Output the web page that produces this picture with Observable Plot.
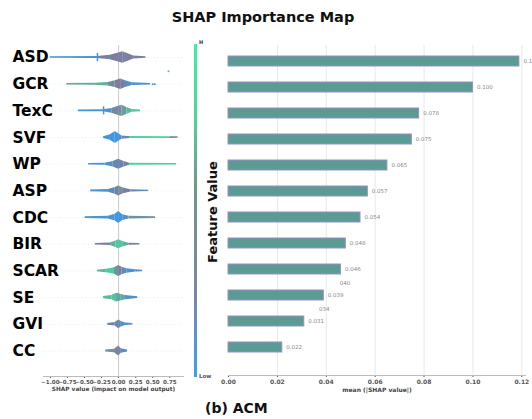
<!DOCTYPE html>
<html><head><meta charset="utf-8">
<script src="https://cdn.jsdelivr.net/npm/d3@7"></script>
<script src="https://cdn.jsdelivr.net/npm/@observablehq/plot@0.6"></script>
<style>
body{margin:0;background:#fff;}
#wrap{position:relative;width:532px;height:419px;overflow:hidden;background:#fff;font-family:"DejaVu Sans",sans-serif;}
.abs{position:absolute;}
#title{top:8px;left:0;width:526px;text-align:center;font-weight:bold;font-size:14.5px;line-height:18px;color:#111;}
#caption{top:399px;left:205px;font-weight:bold;font-size:14px;line-height:18px;color:#111;}
#cbar{left:194px;top:44px;width:3px;height:333px;background:linear-gradient(to bottom,#3cf0a4 0%,#4fd498 22%,#6e9a88 42%,#7a8c94 60%,#7b86aa 76%,#5a94d4 88%,#38a2ec 100%);}
#hlab{left:199px;top:39px;font-size:5px;font-weight:bold;color:#333;}
#lowlab{left:199px;top:373px;font-size:5.5px;font-weight:bold;color:#555;}
#fv{left:153px;top:204px;width:120px;height:16px;line-height:16px;text-align:center;font-size:13px;font-weight:bold;color:#111;transform:rotate(-90deg);}
#left{left:0;top:0;}
#right{left:220px;top:0;}
</style></head>
<body><div id="wrap">
<div id="title" class="abs">SHAP Importance Map</div>
<div id="left" class="abs"></div>
<div id="cbar" class="abs"></div>
<div id="hlab" class="abs">H</div>
<div id="lowlab" class="abs">Low</div>
<div id="fv" class="abs">Feature Value</div>
<div id="right" class="abs"></div>
<div id="caption" class="abs">(b) ACM</div>
</div>
<script>
// ---- data ----
const features = ["ASD","GCR","TexC","SVF","WP","ASP","CDC","BIR","SCAR","SE","GVI","CC"];
const meanAbsShap = [0.119,0.100,0.078,0.075,0.065,0.057,0.054,0.048,0.046,0.039,0.031,0.022];
const shapTicks = [-1.0,-0.75,-0.5,-0.25,0,0.25,0.5,0.75];
const meanTicks = [0,0.02,0.04,0.06,0.08,0.10,0.12];

// violin knots: [SHAP value, density half-width, feature value 0=low..1=high]
const ASD_knots  = [[-1.0,0.8,0.1],[-0.31,1.0,0.45],[-0.12,2.2,0.5],[0.0,4.4,0.5],[0.06,5.8,0.55],[0.13,4,0.5],[0.22,1.6,0.48],[0.40,0.8,0.5]];
const GCR_knots  = [[-0.76,0.8,0.7],[-0.35,1.0,0.75],[-0.15,1.8,0.55],[-0.05,3.4,0.5],[0.03,5.2,0.5],[0.1,3.4,0.2],[0.2,1.4,0.1],[0.47,0.8,0.1]];
const TexC_knots = [[-0.59,0.8,0.1],[-0.22,1.0,0.15],[-0.1,2.3,0.55],[0.0,4.6,0.6],[0.05,5.6,0.65],[0.12,3.4,0.8],[0.2,1.4,0.85],[0.32,0.8,0.6]];
const SVF_knots  = [[-0.22,0.9,0.08],[-0.12,2.8,0.05],[-0.05,6,0.05],[0.0,3.8,0.1],[0.05,1.6,0.35],[0.13,1.1,0.5],[0.17,1.0,0.92],[0.75,0.9,0.5],[0.87,0.8,0.5]];
const WP_knots   = [[-0.44,0.8,0.1],[-0.2,1.1,0.15],[-0.08,2.8,0.35],[0.0,5,0.4],[0.08,2.8,0.45],[0.16,1.1,0.9],[0.85,0.8,0.9]];
const ASP_knots  = [[-0.41,0.8,0.1],[-0.15,1.3,0.25],[-0.05,3.3,0.5],[0.0,5,0.6],[0.07,2.8,0.5],[0.18,1.1,0.3],[0.44,0.7,0.3]];
const CDC_knots  = [[-0.49,0.8,0.1],[-0.15,1.3,0.1],[-0.05,3.3,0.05],[0.0,6,0.05],[0.06,2.8,0.2],[0.15,1.3,0.6],[0.54,0.8,0.5]];
const BIR_knots  = [[-0.34,0.8,0.5],[-0.12,1.3,0.75],[-0.04,3.3,0.85],[0.0,4.5,0.85],[0.06,2.8,0.75],[0.15,1.1,0.5],[0.31,0.7,0.45]];
const SCAR_knots = [[-0.31,0.7,0.75],[-0.18,1.7,0.88],[-0.06,3.3,0.6],[0.0,5.5,0.5],[0.05,3.8,0.3],[0.12,2.2,0.1],[0.25,1.1,0.3],[0.35,0.7,0.45]];
const SE_knots   = [[-0.22,1.1,0.8],[-0.1,2.2,0.82],[-0.03,4.4,0.68],[0.03,3.3,0.7],[0.1,2.2,0.2],[0.28,0.9,0.15]];
const GVI_knots  = [[-0.16,0.9,0.4],[-0.05,1.7,0.4],[0.0,4.4,0.35],[0.04,2.8,0.2],[0.1,1.3,0.1],[0.21,0.7,0.15]];
const CC_knots   = [[-0.19,0.9,0.62],[-0.06,1.7,0.55],[0.0,5,0.45],[0.04,2.2,0.2],[0.13,0.9,0.15]];
const violins = [ASD_knots,GCR_knots,TexC_knots,SVF_knots,WP_knots,ASP_knots,CDC_knots,BIR_knots,SCAR_knots,SE_knots,GVI_knots,CC_knots];

// clustered points showing as spikes: [row, SHAP value, feature value]
const spikes = [[0,-0.31,0.1],[2,-0.22,0.1]];
// isolated points: [row position, SHAP value, feature value]
const strays = [[0.52,0.73,0.8],[1,0.50,0.2],[1,0.53,0.2]];
// high-value accent points inside cores
const accents = [[0,0.04],[0,0.08],[1,0.02],[2,0.02]];
// partly hidden value labels
const ghostLabels = [["SCAR",0.0455,"040"],["SE",0.037,"034"]];

// ---- left: SHAP summary ----
const rowPx = (350.5-57)/11;
const segs = [];
violins.forEach((k,i)=>{
  for(let j=0;j<k.length-1;j++){
    const id = i+"-"+j;
    segs.push({id,row:i,x:k[j][0],w:k[j][1],c:k[j][2]});
    segs.push({id,row:i,x:k[j+1][0],w:k[j+1][1],c:k[j][2]});
  }
});
const colorScale = {type:"linear",domain:[0,0.5,1],range:["#3a9ae6","#7b7e9c","#3fe6a0"]};
const left = Plot.plot({
  width:195,height:400,marginLeft:43,marginRight:12,marginTop:45,marginBottom:24,
  style:{fontFamily:"DejaVu Sans",background:"transparent"},
  x:{domain:[-1.1,0.95]},
  y:{domain:[0,11],range:[57,350.5],axis:null},
  color:colorScale,
  marks:[
    Plot.ruleY(features.map((f,i)=>i),{stroke:"#ececec",strokeDasharray:"1,2"}),
    Plot.ruleX([0],{stroke:"#c8c8c8"}),
    Plot.area(segs,{x1:"x",y1:d=>d.row-d.w/rowPx,y2:d=>d.row+d.w/rowPx,z:"id",fill:"c",curve:"linear"}),
    Plot.ruleX(spikes,{x:d=>d[1],y1:d=>d[0]-4/rowPx,y2:d=>d[0]+4/rowPx,stroke:d=>d[2],strokeWidth:1.5}),
    Plot.dot(strays,{x:d=>d[1],y:d=>d[0],fill:d=>d[2],r:1,stroke:null}),
    Plot.dot(accents,{x:d=>d[1],y:d=>d[0],fill:"#9c6ad8",r:1.4,stroke:null,fillOpacity:0.8}),
    Plot.text(features,{y:(d,i)=>i,text:d=>d,frameAnchor:"left",textAnchor:"start",dx:-31,fontSize:15.5,fontWeight:"bold",fill:"#000"}),
    Plot.axisX(shapTicks,{tickFormat:".2f",fontSize:5.6,fontWeight:"bold",color:"#555",tickSize:2,tickPadding:2,label:null}),
    Plot.frame({anchor:"bottom",stroke:"#bbb"}),
    Plot.text(["SHAP value (impact on model output)"],{frameAnchor:"bottom",dy:14,fontSize:5.8,fontWeight:"bold",fill:"#444"})
  ]
});
document.getElementById("left").appendChild(left);

// ---- right: mean |SHAP| bars ----
const bars = features.map((f,i)=>({f,v:meanAbsShap[i]}));
const right = Plot.plot({
  width:312,height:400,marginLeft:8,marginRight:7,marginTop:45,marginBottom:25,
  style:{fontFamily:"DejaVu Sans",background:"transparent"},
  x:{domain:[0,0.1215]},
  y:{domain:features,range:[35.3,372.8],padding:0.626,axis:null},
  marks:[
    Plot.gridX(meanTicks.slice(1),{stroke:"#e8e8e8",strokeOpacity:1}),
    Plot.barX(bars,{x:"v",y:"f",fill:"#5a9b93",stroke:"#9690c4",strokeWidth:1}),
    Plot.text(bars,{x:"v",y:"f",text:d=>d3.format(".3f")(d.v),dx:4,textAnchor:"start",fontSize:5.5,fill:"#888"}),
    Plot.text(ghostLabels,{x:d=>d[1],y:d=>d[0],text:d=>d[2],dy:14,textAnchor:"start",fontSize:5.5,fill:"#888"}),
    Plot.axisX(meanTicks,{tickFormat:".2f",fontSize:6,fontWeight:"bold",color:"#555",tickSize:2,tickPadding:2,label:null}),
    Plot.frame({anchor:"bottom",stroke:"#bbb"}),
    Plot.text(["mean (|SHAP value|)"],{frameAnchor:"bottom",dy:16,fontSize:6,fontWeight:"bold",fill:"#444"})
  ]
});
document.getElementById("right").appendChild(right);
</script>
</body></html>
